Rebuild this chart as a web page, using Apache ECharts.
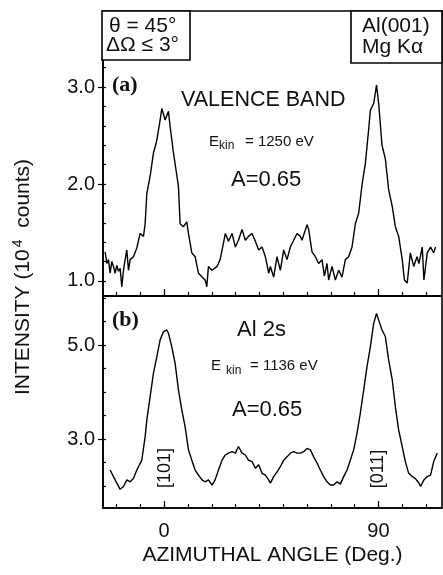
<!DOCTYPE html>
<html><head><meta charset="utf-8">
<script src="https://cdn.jsdelivr.net/npm/echarts@6/dist/echarts.min.js"></script>
<style>html,body{margin:0;padding:0;background:#fff}#c{width:443px;height:575px}</style>
</head><body><div id="c"></div>
<script>
// Panel (a): valence band, azimuthal scan
const valenceAngle = [-24.8,-24.1,-23.4,-22.7,-22.0,-21.3,-20.6,-19.9,-19.2,-18.5,-17.8,-17.1,-16.4,-15.7,-15.0,-14.3,-12.9,-11.5,-10.1,-8.7,-8.0,-7.3,-5.9,-4.5,-3.1,-1.7,-1.0,0.4,1.8,2.5,3.9,5.3,6.0,6.7,8.1,9.5,10.2,11.6,13.0,14.4,15.9,17.2,17.9,18.6,20.1,22.2,23.5,24.9,25.7,27.0,28.5,29.9,31.2,32.7,34.1,35.4,36.9,38.3,39.7,41.1,42.5,43.9,44.6,46.0,47.4,48.8,50.2,51.6,53.0,54.4,55.8,57.2,57.9,60.0,60.7,62.1,63.5,64.9,66.3,67.3,68.4,69.1,70.5,71.9,73.3,74.7,76.1,77.5,78.9,80.3,81.7,83.1,84.5,86.0,86.6,88.0,89.2,90.1,91.5,92.9,94.3,95.8,97.1,98.5,100.0,100.9,102.1,103.4,104.8,106.2,107.0,108.4,109.1,110.5,111.9,113.2,114.0];
const valenceIntensity = [1.30,1.18,1.22,1.08,1.20,1.15,1.08,1.16,1.10,1.13,0.94,1.11,1.22,1.32,1.11,1.22,1.25,1.34,1.49,1.46,1.59,1.90,2.08,2.32,2.45,2.66,2.78,2.66,2.75,2.59,2.32,2.09,1.97,1.59,1.56,1.61,1.49,1.29,1.25,1.08,1.04,1.01,0.94,1.15,1.11,1.15,1.22,1.39,1.49,1.41,1.49,1.35,1.42,1.53,1.42,1.46,1.49,1.41,1.32,1.35,1.25,1.08,1.15,1.04,1.25,1.11,1.32,1.22,1.35,1.42,1.49,1.46,1.42,1.58,1.53,1.30,1.25,1.18,1.22,1.05,1.18,1.01,1.15,1.01,1.11,1.04,1.22,1.25,1.35,1.59,1.70,1.99,2.21,2.59,2.76,2.83,3.02,2.83,2.40,2.26,1.94,1.77,1.56,1.46,1.22,1.01,0.98,1.29,1.15,1.25,1.18,1.35,1.01,1.29,1.35,1.29,1.35];
// Panel (b): Al 2s core level, azimuthal scan
const al2sAngle = [-22.7,-21.3,-19.9,-18.5,-17.1,-15.7,-14.3,-12.9,-11.5,-10.8,-9.4,-8.0,-7.3,-5.9,-4.5,-3.1,-1.7,-0.3,1.1,1.8,3.2,4.6,6.0,7.4,8.8,10.2,11.6,13.0,14.4,15.9,17.2,18.6,20.1,21.4,22.8,24.3,25.7,27.0,28.5,29.9,31.2,32.7,34.1,35.4,36.9,38.3,39.7,41.1,42.5,43.9,44.6,46.0,47.4,48.8,50.2,51.6,53.0,54.4,55.8,57.2,58.6,60.0,61.4,62.8,64.2,65.6,67.0,68.4,69.8,71.2,72.6,74.0,75.4,76.8,78.2,79.6,81.0,82.4,83.8,85.2,86.6,88.0,89.2,90.1,91.5,92.9,94.3,95.8,97.1,98.5,100.0,101.3,102.7,104.2,105.5,107.0,107.7,109.1,110.5,111.9,113.2,114.7];
const al2sIntensity = [2.34,2.20,2.06,1.93,1.99,2.13,2.09,2.16,2.34,2.34,2.55,3.05,3.40,3.90,4.40,4.75,5.11,5.28,5.32,5.25,4.96,4.61,4.04,3.62,3.26,2.77,2.55,2.34,2.23,2.13,2.09,2.13,2.02,2.13,2.34,2.55,2.66,2.70,2.73,2.70,2.84,2.70,2.66,2.55,2.52,2.38,2.45,2.27,2.23,2.13,2.06,2.20,2.30,2.41,2.55,2.62,2.70,2.73,2.70,2.70,2.73,2.80,2.77,2.62,2.49,2.34,2.20,2.09,2.02,2.02,2.09,2.04,2.20,2.34,2.55,2.77,3.12,3.55,4.04,4.54,4.96,5.46,5.67,5.53,5.32,5.18,4.68,4.26,3.69,3.19,2.84,2.52,2.27,2.20,2.16,2.06,1.99,2.13,2.20,2.23,2.52,2.70];
// Tick values
const xTickLabels = [0, 90];
const xMinorTicks = [-20,-10,0,10,20,30,40,50,60,70,80,90,100,110];
const yLabelsA = [1.0, 2.0, 3.0];
const yMinorA = [1.0,1.2,1.4,1.6,1.8,2.0,2.2,2.4,2.6,2.8,3.0,3.2,3.4,3.6];
const yLabelsB = [3.0, 5.0];
const yMinorB = [2.0,2.5,3.0,3.5,4.0,4.5,5.0,5.5,6.0];

const FONT = '"Liberation Sans", Arial, sans-serif';
const zip = (a, b) => a.map((v, i) => [v, b[i]]);
const X_MIN = -25.7, X_MAX = 116.7;

const chart = echarts.init(document.getElementById('c'), null, {renderer: 'canvas'});

function xAx(grid, ticks, len, labels, line) {
  return {
    type: 'value', gridIndex: grid, min: X_MIN, max: X_MAX, position: 'bottom',
    axisLine: {show: line, onZero: false, lineStyle: {color: '#000', width: 1.6}},
    splitLine: {show: false},
    axisTick: {show: true, inside: true, length: len, customValues: ticks, lineStyle: {color: '#000', width: 1.2}},
    axisLabel: labels ? {show: true, customValues: labels, color: '#111', fontSize: 20, fontFamily: FONT, margin: 13} : {show: false}
  };
}
function yAx(grid, min, max, ticks, len, inside, labels, line) {
  return {
    type: 'value', gridIndex: grid, min: min, max: max, position: 'left', offset: 0,
    axisLine: {show: line, onZero: false, lineStyle: {color: '#000', width: 1.6}},
    splitLine: {show: false},
    axisTick: {show: true, inside: inside, length: len, customValues: ticks, lineStyle: {color: '#000', width: 1.2}},
    axisLabel: labels ? {show: true, customValues: labels, color: '#111', fontSize: 20, fontFamily: FONT, margin: 8, formatter: v => v.toFixed(1)} : {show: false}
  };
}

const xa2 = xAx(1, xMinorTicks, 4, xTickLabels, true);
xa2.name = 'AZIMUTHAL ANGLE (Deg.)';
xa2.nameLocation = 'middle';
xa2.nameGap = 37;
xa2.nameTextStyle = {color: '#111', fontSize: 21, fontFamily: FONT};

const txt = (x, y, text, size, extra) => ({
  type: 'text', x: x, y: y, z: 100,
  style: Object.assign({text: text, fill: '#111', font: size + 'px ' + FONT, textVerticalAlign: 'middle'}, extra || {})
});
const SERIF = '"Liberation Serif", "Times New Roman", serif';

chart.setOption({
  animation: false,
  backgroundColor: '#fff',
  grid: [
    {left: 103, top: 11, width: 339, height: 285, show: true, borderColor: '#000', borderWidth: 1.6, backgroundColor: 'transparent'},
    {left: 103, top: 296, width: 339, height: 212, show: true, borderColor: '#000', borderWidth: 1.6, backgroundColor: 'transparent'}
  ],
  xAxis: [
    xAx(0, xMinorTicks, 4, null, true),
    xAx(0, xTickLabels, 7, null, false),
    xa2,
    xAx(1, xTickLabels, 7, null, false)
  ],
  yAxis: [
    yAx(0, 0.845, 3.784, yLabelsA, 5, false, yLabelsA, true),
    yAx(0, 0.845, 3.784, yMinorA, 3, true, null, false),
    yAx(1, 1.532, 6.043, yLabelsB, 5, false, yLabelsB, true),
    yAx(1, 1.532, 6.043, yMinorB, 3, true, null, false)
  ],
  series: [
    {type: 'line', xAxisIndex: 0, yAxisIndex: 0, data: zip(valenceAngle, valenceIntensity), showSymbol: false, symbol: 'none',
     lineStyle: {color: '#000', width: 1.4}, clip: true},
    {type: 'line', xAxisIndex: 2, yAxisIndex: 2, data: zip(al2sAngle, al2sIntensity), showSymbol: false, symbol: 'none',
     lineStyle: {color: '#000', width: 1.4}, clip: true}
  ],
  graphic: [
    // info boxes
    {type: 'rect', shape: {x: 102, y: 11, width: 88, height: 49}, style: {fill: '#fff', stroke: '#000', lineWidth: 1.6}, z: 90},
    txt(109, 26, 'θ = 45°', 21),
    txt(106, 45, 'ΔΩ ≤ 3°', 21),
    {type: 'rect', shape: {x: 351, y: 11, width: 91, height: 52}, style: {fill: '#fff', stroke: '#000', lineWidth: 1.6}, z: 90},
    txt(362, 26, 'Al(001)', 21),
    txt(362, 47, 'Mg Kα', 21),
    // panel labels
    txt(112, 85, '(a)', 22, {font: 'bold 22px ' + SERIF}),
    txt(112, 320, '(b)', 22, {font: 'bold 22px ' + SERIF}),
    // panel (a) annotations
    txt(181, 100, 'VALENCE BAND', 21.5),
    txt(209, 142, 'E', 15),
    txt(219, 146, 'kin', 12),
    txt(245, 142, '= 1250 eV', 15),
    txt(231, 180, 'A=0.65', 22),
    // panel (b) annotations
    txt(237, 330, 'Al 2s', 22),
    txt(211, 366, 'E', 15),
    txt(226, 371, 'kin', 12),
    txt(250, 366, '= 1136 eV', 15),
    txt(232, 410, 'A=0.65', 22),
    {type: 'text', x: 165, y: 468, rotation: Math.PI / 2, z: 100,
     style: {text: '[101]', fill: '#111', font: '18px ' + FONT, textAlign: 'center', textVerticalAlign: 'middle'}},
    {type: 'text', x: 378, y: 469, rotation: Math.PI / 2, z: 100,
     style: {text: '[011]', fill: '#111', font: '18px ' + FONT, textAlign: 'center', textVerticalAlign: 'middle'}},
    // y axis title
    {type: 'text', x: 23, y: 277, rotation: Math.PI / 2, z: 100,
     style: {text: '{t|INTENSITY (10}{s|4}{t|  counts)}', textAlign: 'center', textVerticalAlign: 'middle',
       rich: {t: {fontSize: 21, fontFamily: FONT, fill: '#111'}, s: {fontSize: 14, fontFamily: FONT, fill: '#111', padding: [0, 0, 10, 2]}}}}
  ]
});
</script>
</body></html>
